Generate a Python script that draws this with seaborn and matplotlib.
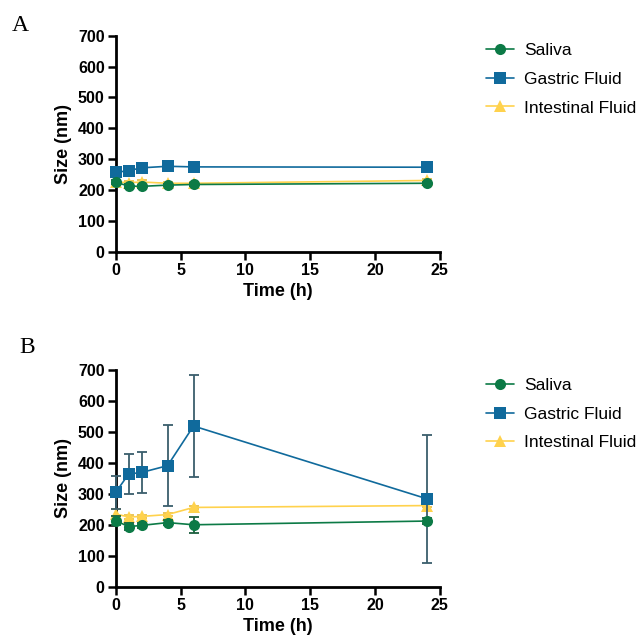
import pandas as pd
import seaborn as sns
import matplotlib.pyplot as plt

sns.set_theme(style="ticks")
plt.rcParams['font.family'] = ['Liberation Sans', 'DejaVu Sans']
plt.rcParams['text.color'] = 'black'
plt.rcParams['xtick.color'] = 'black'
plt.rcParams['ytick.color'] = 'black'
plt.rcParams['axes.labelcolor'] = 'black'

# 데이터
time_h = [0, 1, 2, 4, 6, 24]
series = ['Saliva', 'Gastric Fluid', 'Intestinal Fluid']

# A
a_saliva = [225, 213, 212, 216, 218, 222]
a_gastric = [257, 263, 272, 277, 275, 274]
a_intestinal = [226, 224, 226, 222, 222, 231]
a_saliva_sd = [6, 5, 5, 4, 4, 5]
a_gastric_sd = [6, 6, 7, 5, 5, 6]
a_intestinal_sd = [4, 4, 5, 4, 4, 5]

# B
b_saliva = [213, 194, 198, 207, 200, 212]
b_gastric = [305, 364, 369, 391, 519, 284]
b_intestinal = [235, 225, 227, 233, 256, 262]
b_saliva_sd = [15, 12, 8, 8, 25, 10]
b_gastric_sd = [53, 66, 66, 131, 164, 207]
b_intestinal_sd = [16, 6, 6, 6, 6, 6]

colors = {'Saliva': '#0C7A46', 'Gastric Fluid': '#106A9C', 'Intestinal Fluid': '#FFD24D'}
err_colors = {'Saliva': '#1B5E3E', 'Gastric Fluid': '#3A5E6C', 'Intestinal Fluid': '#E8C04A'}
markers = {'Saliva': 'o', 'Gastric Fluid': 's', 'Intestinal Fluid': '^'}
draw_order = ['Intestinal Fluid', 'Gastric Fluid', 'Saliva']


def make_df(sal, gas, inte, sal_sd, gas_sd, inte_sd):
    rows = []
    vals = {'Saliva': (sal, sal_sd), 'Gastric Fluid': (gas, gas_sd), 'Intestinal Fluid': (inte, inte_sd)}
    for name in series:
        v, sd = vals[name]
        for t, m, s in zip(time_h, v, sd):
            rows.append({'time': t, 'size': m, 'sd': s, 'fluid': name})
    return pd.DataFrame(rows)


df_a = make_df(a_saliva, a_gastric, a_intestinal, a_saliva_sd, a_gastric_sd, a_intestinal_sd)
df_b = make_df(b_saliva, b_gastric, b_intestinal, b_saliva_sd, b_gastric_sd, b_intestinal_sd)

fig = plt.figure(figsize=(6.43, 6.44), dpi=100)
ax_a = fig.add_axes([0.180, 0.609, 0.504, 0.3356])
ax_b = fig.add_axes([0.180, 0.089, 0.504, 0.3365])

for ax, df, letter, lx, ly, legy in [(ax_a, df_a, 'A', 0.018, 0.976, 0.944),
                                     (ax_b, df_b, 'B', 0.030, 0.476, 0.424)]:
    for i, name in enumerate(draw_order):
        sub = df[df['fluid'] == name]
        eb = ax.errorbar(sub['time'], sub['size'], yerr=sub['sd'], fmt='none',
                         ecolor=err_colors[name], elinewidth=1.3, capsize=3.5, capthick=1.3,
                         zorder=4 + i)
        for art in eb.lines[1] + eb.lines[2]:
            art.set_clip_on(False)
        sns.lineplot(data=sub, x='time', y='size', color=colors[name], marker=markers[name],
                     markersize=8 if name != 'Intestinal Fluid' else 8.5,
                     markeredgewidth=0, linewidth=1.2, ax=ax, zorder=4 + i, label=name,
                     errorbar=None, clip_on=False)
    ax.set_xlim(0, 25)
    ax.set_ylim(0, 700)
    ax.set_xticks([0, 5, 10, 15, 20, 25])
    ax.set_yticks(range(0, 701, 100))
    ax.set_xlabel('Time (h)', fontsize=13, fontweight='bold')
    ax.set_ylabel('Size (nm)', fontsize=13, fontweight='bold')
    for lab in ax.get_xticklabels() + ax.get_yticklabels():
        lab.set_fontweight('bold')
        lab.set_fontsize(11.5)
    ax.tick_params(width=1.8, length=6, color='black', pad=2)
    sns.despine(ax=ax)
    for sp in ['left', 'bottom']:
        ax.spines[sp].set_linewidth(2)
        ax.spines[sp].set_color('black')

    handles, labels = ax.get_legend_handles_labels()
    order = [labels.index(n) for n in series]
    ax.legend([handles[k] for k in order], [labels[k] for k in order],
              loc='upper left', bbox_to_anchor=(0.745, legy), bbox_transform=fig.transFigure,
              frameon=False, fontsize=12.5, handlelength=1.6, handletextpad=0.6,
              labelspacing=0.78, borderaxespad=0)

    fig.text(lx, ly, letter, fontsize=17, family=['Liberation Serif', 'DejaVu Serif'],
             va='top', ha='left')

fig.savefig('out.png', dpi=100)
